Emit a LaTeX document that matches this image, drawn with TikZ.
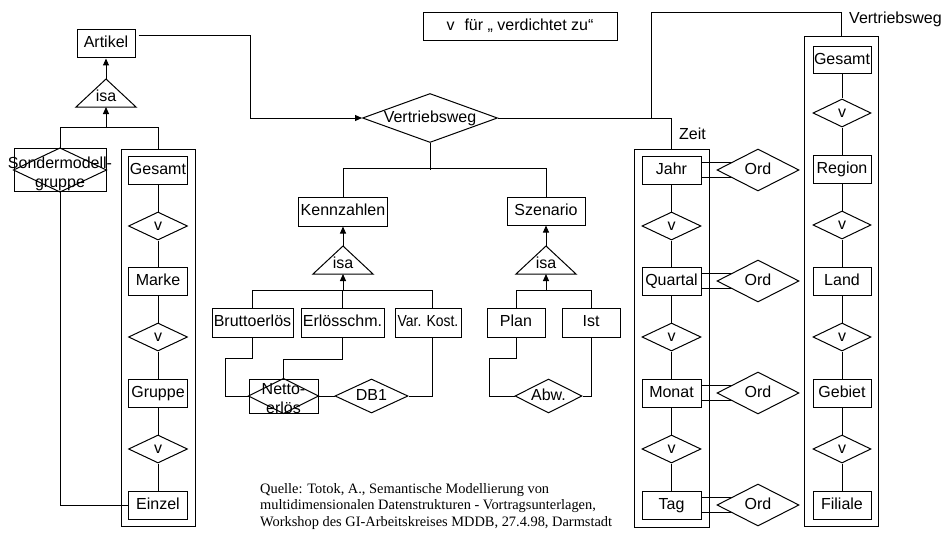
\documentclass[tikz,border=0pt]{standalone}
\usepackage{fontspec}
\setmainfont{Liberation Serif}
\setsansfont{Liberation Sans}
\usetikzlibrary{shapes.geometric,arrows.meta,backgrounds}
% text that does not widen the shape around it
\newcommand\nowidth[1]{\makebox[0pt]{#1}}
% isa triangle: name, x of the apex, y of the base
\newcommand\isatri[3]{%
  \coordinate (#1-base) at (#2,#3);
  \coordinate (#1-apex) at (#2,#3-28);
  \draw[line] (#1-apex) -- (#2-30,#3) -- (#2+30,#3) -- cycle;
  \node[lbl] (#1) at (#2,#3-10) {isa};
}
\begin{document}
\begin{tikzpicture}[x=1pt,y=-1pt,
  lbl/.style={font=\sffamily\fontsize{16}{19}\selectfont, inner sep=0pt, text height=11.5pt, text depth=3.5pt},
  lbltwo/.style={font=\sffamily\fontsize{16}{19}\selectfont, inner sep=0pt, align=center},
  line/.style={line width=1pt},
  box/.style={lbl, draw, line width=1pt, fill=white, minimum width=59pt, minimum height=28pt},
  diam/.style={lbl, diamond, draw, line width=1pt, fill=white, minimum width=59pt, minimum height=28pt},
  ord/.style={diam, minimum width=82pt, minimum height=42pt},
  frame/.style={draw, line width=1pt, inner sep=0pt},
  inbox/.style={draw, line width=1pt, inner sep=0pt},
  arr/.style={line, -{Triangle[length=7pt,width=6pt]}},
]
\useasboundingbox (0,0) rectangle (947,535);

% legend
\node[box, minimum width=194pt] (legend) at (520,27) {v\hspace{10pt}für „ verdichtet zu“};

% ---- Artikel dimension
\node[box, minimum width=58pt] (art) at (106,44) {Artikel};
\isatri{isaA}{106}{107}
\node[inbox, minimum width=92pt, minimum height=43pt] (sm) at (60,170) {};
\draw[line] (sm.west) -- (sm.north) -- (sm.east) -- (sm.south) -- cycle;
\node[lbltwo] (smt) at (60,174) {Sondermodell-\\gruppe};

\node[frame, minimum width=74pt, minimum height=377pt] (pframe) at (158,337.5) {};
\node[box] (pges) at (158,170) {Gesamt};
\node[diam] (pv1) at (158,226) {v};
\node[box] (marke) at (158,281) {Marke};
\node[diam] (pv2) at (158,337) {v};
\node[box] (gruppe) at (158,393) {Gruppe};
\node[diam] (pv3) at (158,449) {v};
\node[box] (einzel) at (158,505) {Einzel};

% ---- central fact
\node[diam, minimum width=135pt, minimum height=49pt] (vw) at (430,118) {\nowidth{Vertriebsweg}};
\node[box, minimum width=89pt, minimum height=29pt] (kenn) at (343,211.5) {Kennzahlen};
\node[box, minimum width=78pt] (szen) at (546,211) {Szenario};
\isatri{isaK}{343}{274}
\isatri{isaS}{546}{274}
\node[box, minimum width=81pt, minimum height=29pt] (brutto) at (252.5,322.5) {Bruttoerlös};
\node[box, minimum width=83pt, minimum height=29pt] (erl) at (342.5,322.5) {Erlösschm.};
\node[box, minimum width=66pt, minimum height=29pt] (vk) at (428,322.5) {\nowidth{\scalebox{0.87}[1]{Var. Kost.}}};
\node[box, minimum width=58pt, minimum height=29pt] (plan) at (516,322.5) {Plan};
\node[box, minimum width=58pt, minimum height=29pt] (ist) at (591,322.5) {Ist};
\node[inbox, minimum width=69pt, minimum height=34pt] (netto) at (283.5,396) {};
\draw[line] (netto.west) -- (netto.north) -- (netto.east) -- (netto.south) -- cycle;
\node[lbltwo] (nettot) at (283.5,398.5) {Netto-\\erlös};
\node[diam, minimum width=73pt, minimum height=34pt] (db1) at (371.5,396) {\nowidth{DB1}};
\node[diam, minimum width=67pt, minimum height=34pt] (abw) at (548.5,396) {\nowidth{Abw.}};

% ---- Zeit dimension
\node[frame, minimum width=75pt, minimum height=378pt] (zframe) at (671.5,338) {};
\node[lbl, anchor=west] (zlabel) at (679,135) {Zeit};
\node[box] (jahr) at (671.5,170) {Jahr};
\node[diam] (zv1) at (671.5,226) {v};
\node[box] (quartal) at (671.5,281) {Quartal};
\node[diam] (zv2) at (671.5,337) {v};
\node[box] (monat) at (671.5,393) {Monat};
\node[diam] (zv3) at (671.5,449) {v};
\node[box] (tag) at (671.5,505) {Tag};
\foreach \n/\y in {1/170,2/281,3/393,4/505}
  \node[ord] (ord\n) at (758,\y) {\nowidth{Ord}};

% ---- Vertriebsweg dimension
\node[frame, minimum width=74pt, minimum height=489pt] (vframe) at (841,281.5) {};
\node[lbl, anchor=west] (vlabel) at (849,20) {Vertriebsweg};
\node[box, minimum width=58pt, minimum height=27pt] (vges) at (842,60) {Gesamt};
\node[diam, minimum width=58pt] (vv1) at (842,113) {v};
\node[box, minimum width=58pt] (region) at (842,169) {Region};
\node[diam, minimum width=58pt] (vv2) at (842,225) {v};
\node[box, minimum width=58pt] (land) at (842,281) {Land};
\node[diam, minimum width=58pt] (vv3) at (842,337) {v};
\node[box, minimum width=58pt] (gebiet) at (842,393) {Gebiet};
\node[diam, minimum width=58pt] (vv4) at (842,449) {v};
\node[box, minimum width=58pt] (filiale) at (842,505) {Filiale};

% ---- connectors
\draw[arr] (isaA-apex) -- (art.south);
\draw[arr] ([yshift=-21pt]isaA-base) -- (isaA-base);
\draw[line] (sm.north) -- ++(0,-20.5) -| (pframe.north);
\draw[line] (sm.south) |- (einzel.west);
\draw[arr] ([xshift=3pt,yshift=8pt]art.east) -| ([xshift=-112pt]vw.west) -- (vw.west);

\draw[line] (vw.east) -| (zframe.north);
\draw[line] (vw.east -| 651,0) -- ++(0,-105) -| (vframe.north);
\draw[line] (vw.south) -- ++(0,27);
\draw[line] (kenn.north) -- ++(0,-28) -| (szen.north);

\draw[arr] (isaK-apex) -- (kenn.south);
\draw[arr] (isaS-apex) -- (szen.south);
\draw[arr] ([yshift=-17pt]isaK-base) -- (isaK-base);
\draw[arr] ([yshift=-17pt]isaS-base) -- (isaS-base);
\draw[line] (brutto.north) -- ++(0,-17) -| ([xshift=4pt]vk.north);
\draw[line] (erl.north) -- ++(0,-17);
\draw[line] (plan.north) -- ++(0,-17) -| (ist.north);

\draw[line] (brutto.south) -- ++(0,21) -- ++(-27,0) |- (netto.west);
\draw[line] (erl.south) -- ++(0,22) -| (netto.north);
\draw[line] (netto.east) -- (db1.west);
\draw[line] ([xshift=4pt]vk.south) |- (db1.east);
\draw[line] (plan.south) -- ++(0,21) -- ++(-27,0) |- (abw.west);
\draw[line] (ist.south) |- (abw.east);

\draw[line] (pges) -- (pv1) -- (marke) -- (pv2) -- (gruppe) -- (pv3) -- (einzel);
\draw[line] (jahr) -- (zv1) -- (quartal) -- (zv2) -- (monat) -- (zv3) -- (tag);
\draw[line] (vges) -- (vv1) -- (region) -- (vv2) -- (land) -- (vv3) -- (gebiet) -- (vv4) -- (filiale);

\begin{scope}[on background layer]
  \foreach \b/\o in {jahr/ord1, quartal/ord2, monat/ord3, tag/ord4} {
    \draw[line] ([yshift=8pt]\b.east) -- ([yshift=8pt]\o.center);
    \draw[line] ([yshift=-7pt]\b.east) -- ([yshift=-7pt]\o.center);
  }
\end{scope}

% source
\node[anchor=north west, inner sep=0pt, align=left, font=\rmfamily\fontsize{14.4}{16.8}\selectfont] (quelle) at (260,483)
  {Quelle: Totok, A., Semantische Modellierung von\\
   multidimensionalen Datenstrukturen - Vortragsunterlagen,\\
   Workshop des GI-Arbeitskreises MDDB, 27.4.98, Darmstadt};
\end{tikzpicture}
\end{document}
